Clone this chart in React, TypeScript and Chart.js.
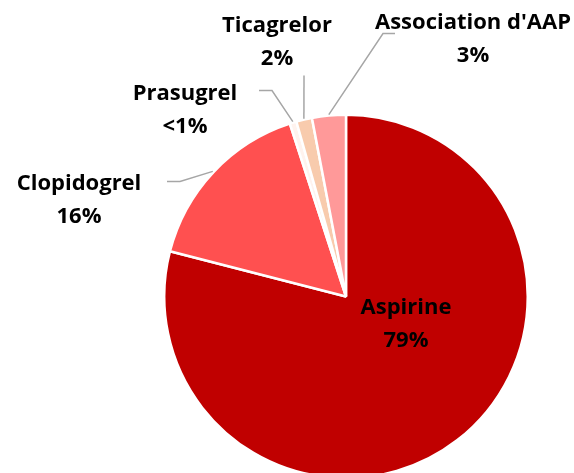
import React, { useEffect, useRef } from "react";
import { Chart, registerables } from "chart.js";

Chart.register(...registerables);

const categories = ["Aspirine", "Clopidogrel", "Prasugrel", "Ticagrelor", "Association d'AAP"];
const shares = [79, 16, 0.6, 1.4, 3];
const shareLabels = ["79%", "16%", "<1%", "2%", "3%"];

const sliceColors = ["#C00000", "#FF5050", "#FFF3EE", "#F8CBAD", "#FF9999"];
// label text centre offsets from the pie centre (first line)
const labelOffsets = [
  [60, 11],
  [-267, -113],
  [-161, -203],
  [-69, -271],
  [127, -274],
];
// leader line points (offsets from pie centre), drawn from first point to the slice edge
const leaderPoints: number[][][] = [
  [],
  [[-179, -115], [-166, -115]],
  [[-87, -206], [-74, -206]],
  [[-42, -221]],
  [[49, -263], [37, -263]],
];

const FONT = "bold 22px 'Open Sans', sans-serif";

const labelPlugin = {
  id: "pieLabels",
  afterDraw(chart: any) {
    const ctx = chart.ctx;
    const meta = chart.getDatasetMeta(0);
    ctx.save();
    meta.data.forEach((arc: any, i: number) => {
      const { x, y, startAngle, endAngle, outerRadius } = arc.getProps(
        ["x", "y", "startAngle", "endAngle", "outerRadius"],
        true
      );
      const pts = leaderPoints[i];
      if (pts.length) {
        const mid = (startAngle + endAngle) / 2;
        const ex = x + Math.cos(mid) * (outerRadius + 1);
        const ey = y + Math.sin(mid) * (outerRadius + 1);
        ctx.strokeStyle = "#A6A6A6";
        ctx.lineWidth = 1.5;
        ctx.beginPath();
        ctx.moveTo(x + pts[0][0], y + pts[0][1]);
        for (let k = 1; k < pts.length; k++) ctx.lineTo(x + pts[k][0], y + pts[k][1]);
        ctx.lineTo(ex, ey);
        ctx.stroke();
      }
      const [ox, oy] = labelOffsets[i];
      ctx.fillStyle = "#000000";
      ctx.font = FONT;
      ctx.textAlign = "center";
      ctx.textBaseline = "middle";
      ctx.fillText(categories[i], x + ox, y + oy);
      ctx.fillText(shareLabels[i], x + ox, y + oy + 33);
    });
    ctx.restore();
  },
};

export default function App() {
  const ref = useRef<HTMLCanvasElement | null>(null);
  useEffect(() => {
    if (!ref.current) return;
    const chart = new Chart(ref.current, {
      type: "pie",
      data: {
        labels: categories,
        datasets: [
          {
            data: shares,
            backgroundColor: sliceColors,
            borderColor: "#FFFFFF",
            borderWidth: 2.5,
          },
        ],
      },
      options: {
        responsive: false,
        animation: false,
        layout: { padding: { left: 163, right: 45, top: 113, bottom: 0 } },
        plugins: {
          legend: { display: false },
          tooltip: { enabled: false },
        },
      },
      plugins: [labelPlugin],
    });
    return () => chart.destroy();
  }, []);
  return (
    <div
      style={{
        position: "fixed",
        left: 0,
        top: 0,
        width: 574,
        height: 473,
        overflow: "hidden",
        background: "#FFFFFF",
      }}
    >
      <canvas ref={ref} width={574} height={480} style={{ display: "block" }} />
    </div>
  );
}
